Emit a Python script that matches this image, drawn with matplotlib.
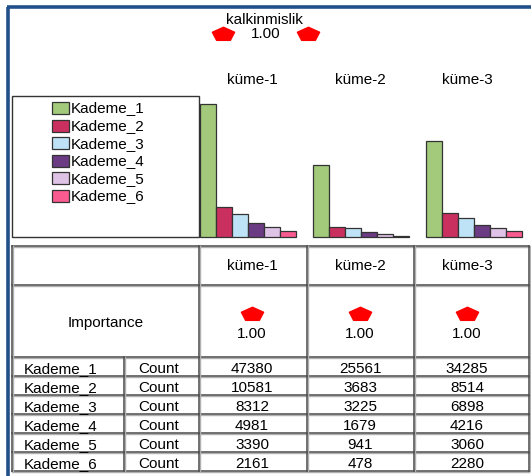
import numpy as np
import matplotlib
matplotlib.use("Agg")
import matplotlib.pyplot as plt
from matplotlib.patches import Rectangle
from matplotlib.path import Path

# ---------------- data ----------------
title = "kalkinmislik"
title_value = "1.00"
clusters = ["küme-1", "küme-2", "küme-3"]
importance = ["1.00", "1.00", "1.00"]
series = ["Kademe_1", "Kademe_2", "Kademe_3", "Kademe_4", "Kademe_5", "Kademe_6"]
stat_label = "Count"
counts_k1 = [47380, 25561, 34285]
counts_k2 = [10581, 3683, 8514]
counts_k3 = [8312, 3225, 6898]
counts_k4 = [4981, 1679, 4216]
counts_k5 = [3390, 941, 3060]
counts_k6 = [2161, 478, 2280]
counts = [counts_k1, counts_k2, counts_k3, counts_k4, counts_k5, counts_k6]
colors = ["#A3C97A", "#C9305F", "#BEE2F6", "#6B3B83", "#DFC3E6", "#F95B91"]

# ---------------- figure ----------------
W, H = 531, 476
fig = plt.figure(figsize=(W / 100, H / 100), dpi=100)
plt.rcParams['font.family'] = ['Liberation Sans', 'DejaVu Sans']
FS = 11

ax0 = fig.add_axes([0, 0, 1, 1])
ax0.set_xlim(0, W)
ax0.set_ylim(H, 0)
ax0.axis("off")

# squashed pentagon marker
ang = np.pi / 2 + np.arange(5) * 2 * np.pi / 5
pent = np.column_stack([np.cos(ang), np.sin(ang) * 0.62])
pent = np.vstack([pent, pent[:1]])
pent_marker = Path(pent, closed=True)

# outer blue frame (left + top)
ax0.plot([8, 8], [H + 5, 7], color="#22508A", lw=2.6, solid_capstyle="butt")
ax0.plot([6.7, W + 5], [7, 7], color="#22508A", lw=2.6, solid_capstyle="butt")

# title
ax0.text(264, 20, title, ha="center", va="center", fontsize=FS)
ax0.text(266, 33.5, title_value, ha="center", va="center", fontsize=FS)
ax0.plot([223, 308], [33.5, 33.5], ls="none", marker=pent_marker, ms=16,
         color="#FF0000", mec="#FF0000")

# cluster headers above bars
col_centers = [252, 360, 467]
for cx, name in zip(col_centers, clusters):
    ax0.text(cx, 80, name, ha="center", va="center", fontsize=FS)

# legend box
ax0.add_patch(Rectangle((12, 96), 187, 141, fill=False, ec="#333333", lw=1.0))
for i, (name, c) in enumerate(zip(series, colors)):
    y = 108 + i * 17.6
    ax0.add_patch(Rectangle((52, y - 6), 17, 12, fc=c, ec="#333333", lw=0.9))
    ax0.text(71, y + 0.5, name, ha="left", va="center", fontsize=FS)

# ---------------- bars ----------------
axb = fig.add_axes([200 / W, 1 - 237 / H, 322 / W, 133 / H])
axb.set_xlim(0, 322)
axb.set_ylim(0, max(counts_k1))
axb.axis("off")
step = 113
bw = 16
for i, (vals, c) in enumerate(zip(counts, colors)):
    xs = [k * step + i * bw + bw / 2 for k in range(len(clusters))]
    axb.bar(xs, vals, width=bw, color=c, edgecolor="#333333", linewidth=0.9,
            clip_on=False)

# ---------------- table ----------------
lc = "#4a4a4a"
xl, xr = 12, 529
vcols = [199, 307, 414]
y_top, y_hdr, y_imp = 246, 285, 357
row_h = 19
n = len(series)
y_bot = y_imp + n * row_h

def hline(y, x0=xl, x1=xr):
    ax0.plot([x0, x1], [y + 1, y + 1], color="#b0b0b0", lw=1.0)
    ax0.plot([x0, x1], [y, y], color=lc, lw=1.1)

def vline(x, y0, y1):
    ax0.plot([x + 1, x + 1], [y0, y1], color="#b0b0b0", lw=1.0)
    ax0.plot([x, x], [y0, y1], color=lc, lw=1.1)

for y in [y_top, y_hdr, y_imp] + [y_imp + (k + 1) * row_h for k in range(n)]:
    hline(y)
vline(xl, y_top, y_bot)
vline(xr, y_top, y_bot)
for x in vcols:
    vline(x, y_top, y_bot)
vline(124, y_imp, y_bot)

# header row
for cx, name in zip(col_centers, clusters):
    ax0.text(cx, 266, name, ha="center", va="center", fontsize=FS)

# importance row
ax0.text(106, 323, "Importance", ha="center", va="center", fontsize=FS)
ax0.plot(col_centers, [314] * 3, ls="none", marker=pent_marker, ms=16,
         color="#FF0000", mec="#FF0000")
for cx, v in zip(col_centers, importance):
    ax0.text(cx, 334, v, ha="center", va="center", fontsize=FS)

# data rows
for i, (name, vals) in enumerate(zip(series, counts)):
    yc = y_imp + i * row_h + row_h / 2 + 2.5
    ax0.text(24, yc, name, ha="left", va="center", fontsize=FS)
    ax0.text(138, yc, stat_label, ha="left", va="center", fontsize=FS)
    for cx, v in zip(col_centers, vals):
        ax0.text(cx, yc, str(v), ha="center", va="center", fontsize=FS)

fig.savefig("out.png", dpi=100)
